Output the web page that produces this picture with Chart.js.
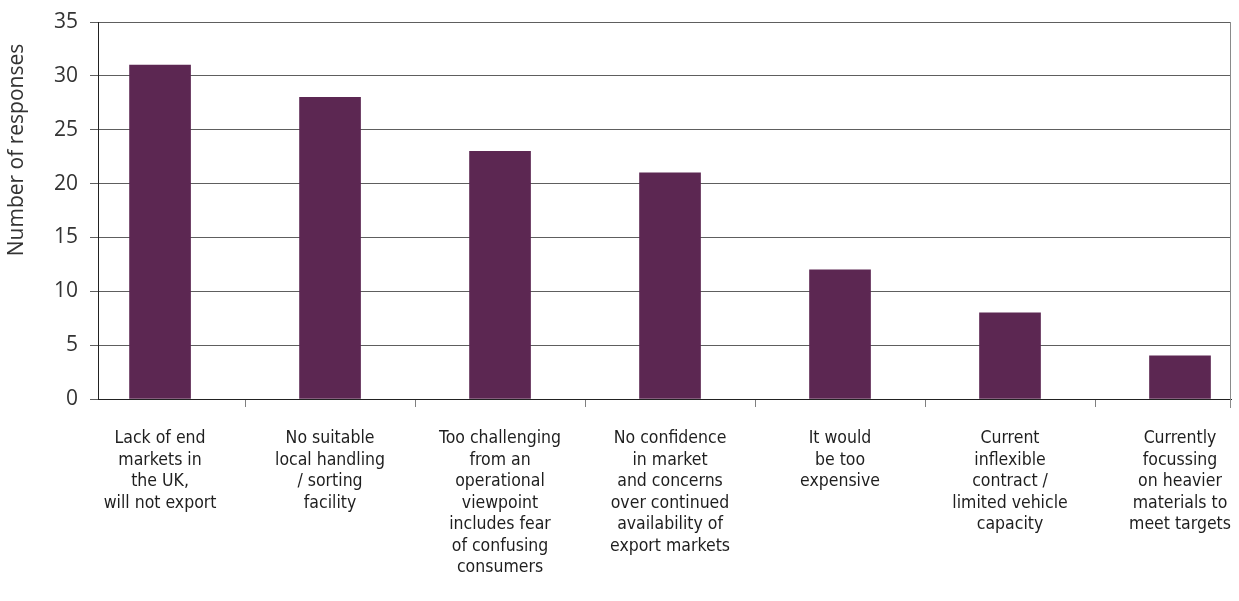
<!DOCTYPE html>
<html>
<head>
<meta charset="utf-8">
<script src="https://cdn.jsdelivr.net/npm/chart.js"></script>
<style>
  html, body { margin: 0; padding: 0; background: #fff; }
</style>
</head>
<body>
<canvas id="reasonsChart" width="1239" height="601"></canvas>

<script>
    // Reasons given for not collecting the material
    const categories = [
        ['Lack of end', 'markets in', 'the UK,', 'will not export'],
        ['No suitable', 'local handling', '/ sorting', 'facility'],
        ['Too challenging', 'from an', 'operational', 'viewpoint', 'includes fear', 'of confusing', 'consumers'],
        ['No confidence', 'in market', 'and concerns', 'over continued', 'availability of', 'export markets'],
        ['It would', 'be too', 'expensive'],
        ['Current', 'inflexible', 'contract /', 'limited vehicle', 'capacity'],
        ['Currently', 'focussing', 'on heavier', 'materials to', 'meet targets']
    ];
    const responses = [31, 28, 23, 21, 12, 8, 4];
    const yTicks = [0, 5, 10, 15, 20, 25, 30, 35];
    const yTitle = 'Number of responses';

    // Axis title on the left and the right-hand frame line
    const frame = {
        id: 'frame',
        afterDraw(chart) {
            const { ctx, chartArea } = chart;
            ctx.save();
            ctx.strokeStyle = '#8a8a8a';
            ctx.lineWidth = 1;
            ctx.beginPath();
            ctx.moveTo(Math.round(chartArea.right) - 0.5, chartArea.top);
            ctx.lineTo(Math.round(chartArea.right) - 0.5, chartArea.bottom + 9);
            ctx.stroke();

            ctx.translate(17, 150);
            ctx.rotate(-Math.PI / 2);
            ctx.fillStyle = '#333';
            ctx.font = '21px "Open Sans"';
            ctx.textAlign = 'center';
            ctx.textBaseline = 'middle';
            ctx.fillText(yTitle, 0, 0);
            ctx.restore();
        }
    };

    const ctx = document.getElementById('reasonsChart').getContext('2d');
    new Chart(ctx, {
        type: 'bar',
        data: {
            datasets: [{
                label: yTitle,
                data: responses.map((v, i) => ({ x: i, y: v })),
                backgroundColor: '#5c2752',
                borderWidth: 0,
                barThickness: 61
            }]
        },
        options: {
            responsive: false,
            animation: false,
            layout: { padding: { top: 22, right: 8, left: 0, bottom: 0 } },
            plugins: {
                legend: { display: false },
                tooltip: { enabled: false }
            },
            scales: {
                x: {
                    type: 'linear',
                    offset: false,
                    min: -0.365,
                    max: 6.3,
                    afterBuildTicks: scale => {
                        scale.ticks = categories.map((c, i) => ({ value: i }));
                    },
                    afterFit: scale => {
                        scale.height = 202;
                        scale.paddingLeft = 0;
                        scale.paddingRight = 0;
                    },
                    grid: {
                        offset: true,
                        drawOnChartArea: false,
                        tickLength: 8,
                        color: '#808080'
                    },
                    border: { color: '#222', width: 1 },
                    ticks: {
                        autoSkip: false,
                        maxRotation: 0,
                        padding: 21,
                        color: '#1e1e1e',
                        font: { family: '"DejaVu Sans Condensed", Roboto, sans-serif', size: 17.5, lineHeight: 1.23 },
                        callback: value => categories[value]
                    }
                },
                y: {
                    min: 0,
                    max: 35,
                    afterBuildTicks: scale => {
                        scale.ticks = yTicks.map(v => ({ value: v }));
                    },
                    afterFit: scale => {
                        scale.width = 98;
                        scale.paddingTop = 0;
                        scale.paddingBottom = 0;
                    },
                    grid: {
                        tickLength: 8,
                        color: c => (c.tick && c.tick.value === 0) ? '#222' : '#5e5e5e',
                        tickColor: '#5e5e5e'
                    },
                    border: { color: '#222', width: 1 },
                    ticks: {
                        padding: 12,
                        color: '#333',
                        font: { family: '"Open Sans"', size: 21 }
                    }
                }
            }
        },
        plugins: [frame]
    });
</script>
</body>
</html>
